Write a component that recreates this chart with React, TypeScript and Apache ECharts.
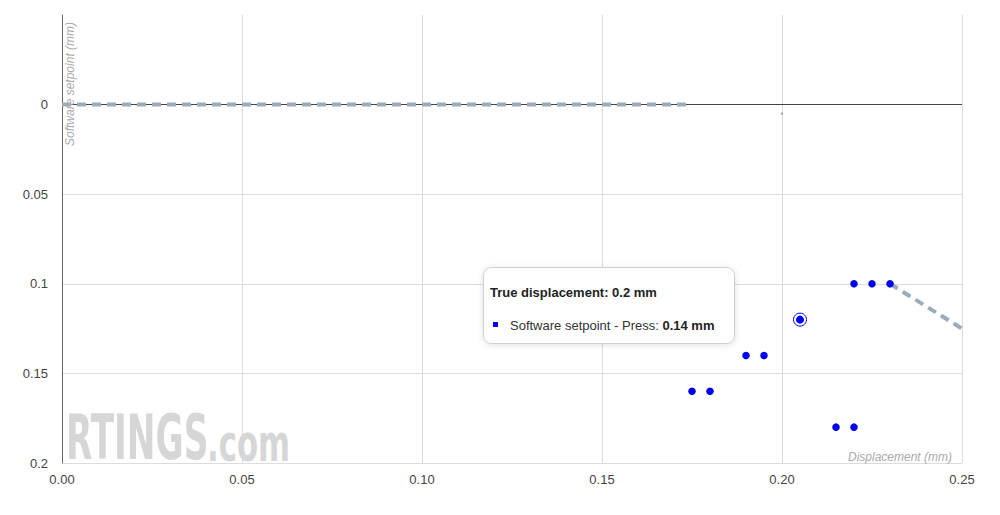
import { useEffect, useRef } from "react";
import * as echarts from "echarts";

// ─── Data ───────────────────────────────────────────────
const X_TICKS = [0, 0.05, 0.1, 0.15, 0.2, 0.25];
const Y_TICKS = [-0.05, 0, 0.05, 0.1, 0.15, 0.2];

// software setpoint (dashed reference segments)
const SETPOINT_START = [
  [0, 0],
  [0.175, 0],
];
const SETPOINT_END = [
  [0.23, 0.1],
  [0.25, 0.125],
];

// measured press points
const PRESS_X = [0.175, 0.18, 0.19, 0.195, 0.215, 0.22, 0.22, 0.225, 0.23];
const PRESS_Y = [0.16, 0.16, 0.14, 0.14, 0.18, 0.18, 0.1, 0.1, 0.1];

// hovered point
const HOVER_POINT = [0.205, 0.12];
const STRAY_POINT = [0.2, 0.005];

const TOOLTIP_TITLE = "True displacement: 0.2 mm";
const TOOLTIP_LABEL = "Software setpoint - Press: ";
const TOOLTIP_VALUE = "0.14 mm";

const BLUE = "#0000f0";
const DASH = "#9aabbb";
const FONT = "'Liberation Sans', Arial, sans-serif";

export default function App() {
  const ref = useRef<HTMLDivElement>(null);

  useEffect(() => {
    if (!ref.current) return;
    const chart = echarts.init(ref.current, undefined, { renderer: "svg" });

    chart.setOption({
      animation: false,
      textStyle: { fontFamily: FONT },
      grid: { left: 62, right: 38, top: 15, bottom: 52 },
      xAxis: {
        type: "value",
        min: X_TICKS[0],
        max: X_TICKS[X_TICKS.length - 1],
        interval: 0.05,
        axisLine: { show: false },
        axisTick: { show: false },
        axisLabel: {
          color: "#444",
          fontSize: 13,
          margin: 10,
          formatter: (v: number) => v.toFixed(2),
        },
        splitLine: { lineStyle: { color: "#dcdcdc", width: 1 } },
      },
      yAxis: {
        type: "value",
        inverse: true,
        min: Y_TICKS[0],
        max: Y_TICKS[Y_TICKS.length - 1],
        interval: 0.05,
        axisLine: { show: true, lineStyle: { color: "#666", width: 1 } },
        axisTick: { show: false },
        axisLabel: {
          color: "#444",
          fontSize: 13,
          margin: 14,
          formatter: (v: number) => (v < 0 ? "" : String(+v.toFixed(2))),
        },
        splitLine: {
          lineStyle: {
            color: ["rgba(0,0,0,0)", "#dcdcdc", "#dcdcdc", "#dcdcdc", "#dcdcdc", "#dcdcdc"],
            width: 1,
          },
        },
      },
      series: [
        // zero line (drawn below the dashed setpoint)
        {
          type: "line",
          data: [],
          silent: true,
          z: 1,
          markLine: {
            silent: true,
            z: 1,
            symbol: "none",
            label: { show: false },
            lineStyle: { color: "#444", width: 1, type: "solid" },
            data: [{ yAxis: 0 }],
          },
        },
        {
          type: "line",
          data: SETPOINT_START,
          symbol: "none",
          silent: true,
          lineStyle: { color: DASH, width: 4, type: [9, 6] },
          z: 3,
        },
        {
          type: "line",
          data: SETPOINT_END,
          symbol: "none",
          silent: true,
          lineStyle: { color: DASH, width: 4, type: [9, 6] },
          z: 3,
        },
        {
          type: "scatter",
          data: PRESS_X.map((x, i) => [x, PRESS_Y[i]]),
          symbolSize: 7.5,
          itemStyle: { color: BLUE, opacity: 1 },
          z: 4,
        },
        {
          type: "scatter",
          data: [HOVER_POINT],
          symbolSize: 13,
          itemStyle: { color: "#fff", borderColor: BLUE, borderWidth: 1, opacity: 1 },
          z: 4,
        },
        {
          type: "scatter",
          data: [HOVER_POINT],
          symbolSize: 8,
          itemStyle: { color: BLUE, opacity: 1 },
          z: 5,
        },
        {
          type: "scatter",
          data: [STRAY_POINT],
          symbolSize: 2.5,
          itemStyle: { color: "#aaa", opacity: 1 },
          z: 2,
        },
      ],
      graphic: [
        // watermark
        {
          type: "text",
          x: 66,
          y: 469,
          scaleX: 0.605,
          silent: true,
          style: {
            text: "RTINGS",
            font: "bold 63px 'DejaVu Sans Condensed', 'DejaVu Sans', sans-serif",
            fill: "#d6d6d6",
            textVerticalAlign: "bottom",
          },
          z: 1,
        },
        {
          type: "text",
          x: 207,
          y: 469,
          scaleX: 0.67,
          silent: true,
          style: {
            text: ".com",
            font: "bold 51px 'DejaVu Sans Condensed', 'DejaVu Sans', sans-serif",
            fill: "#d6d6d6",
            textVerticalAlign: "bottom",
          },
          z: 1,
        },
        // axis names
        {
          type: "text",
          x: 70,
          y: 146,
          rotation: Math.PI / 2,
          silent: true,
          style: {
            text: "Software setpoint (mm)",
            font: `italic 12px ${FONT}`,
            fill: "#aaa",
            textAlign: "left",
            textVerticalAlign: "middle",
          },
          z: 10,
        },
        {
          type: "text",
          x: 952,
          y: 457,
          silent: true,
          style: {
            text: "Displacement (mm)",
            font: `italic 12px ${FONT}`,
            fill: "#aaa",
            textAlign: "right",
            textVerticalAlign: "middle",
          },
          z: 10,
        },
        // tooltip box
        {
          type: "rect",
          shape: { x: 483.5, y: 267.5, width: 251, height: 76, r: 8 },
          silent: true,
          style: {
            fill: "#fff",
            stroke: "#cfcfcf",
            lineWidth: 1,
            shadowBlur: 6,
            shadowColor: "rgba(0,0,0,0.12)",
            shadowOffsetY: 1,
          },
          z: 20,
        },
        {
          type: "text",
          x: 490,
          y: 292,
          silent: true,
          style: {
            text: TOOLTIP_TITLE,
            font: `bold 13px ${FONT}`,
            fill: "#222",
            textVerticalAlign: "middle",
          },
          z: 21,
        },
        {
          type: "rect",
          shape: { x: 493, y: 322, width: 5, height: 5 },
          silent: true,
          style: { fill: BLUE },
          z: 21,
        },
        {
          type: "text",
          x: 510,
          y: 325,
          silent: true,
          style: {
            text: `{n|${TOOLTIP_LABEL}}{b|${TOOLTIP_VALUE}}`,
            textVerticalAlign: "middle",
            rich: {
              n: { font: `13px ${FONT}`, fill: "#333" },
              b: { font: `bold 13px ${FONT}`, fill: "#222" },
            },
          },
          z: 21,
        },
      ],
    });

    return () => chart.dispose();
  }, []);

  return (
    <div
      ref={ref}
      style={{ position: "fixed", left: 0, top: 0, width: 1000, height: 515, background: "#fff" }}
    />
  );
}
